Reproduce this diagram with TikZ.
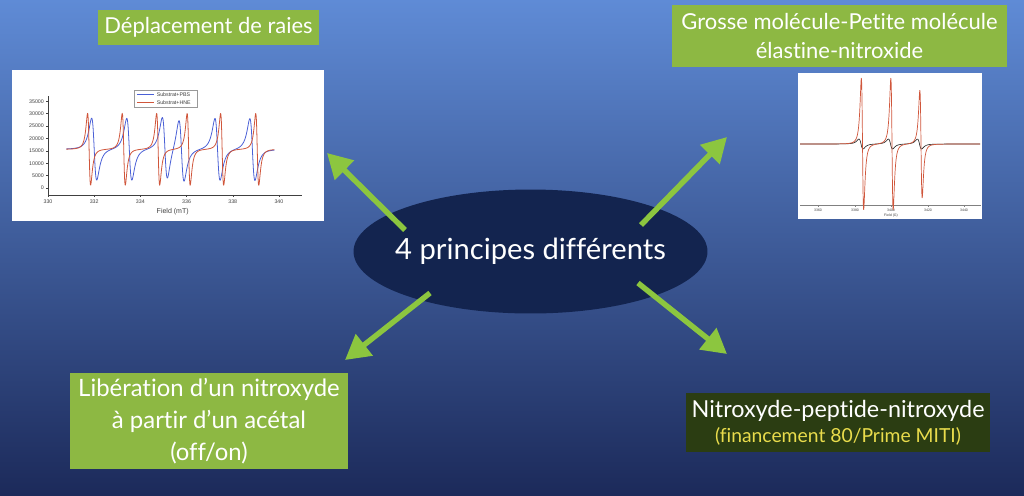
\documentclass[tikz,border=0pt]{standalone}
\usepackage{fontspec}
\setmainfont{Lato}[Ligatures=NoCommon]
\newfontfamily\graphefont{Liberation Sans}
\usetikzlibrary{arrows.meta,shapes.geometric}

\definecolor{fondhaut}{HTML}{5F8BD6}
\definecolor{fondmilieu}{HTML}{36559C}
\definecolor{fondbas}{HTML}{1C2A5A}
\definecolor{vertboite}{HTML}{8DB843}
\definecolor{vertfleche}{HTML}{8CC63F}
\definecolor{ovale}{HTML}{13244F}
\definecolor{olive}{HTML}{2B3D12}
\definecolor{jaune}{HTML}{E9DC4C}
\definecolor{bleucourbe}{HTML}{4A60D6}
\definecolor{rougecourbe}{HTML}{D0563B}

\tikzset{
	titre/.style={rectangle,fill=vertboite,text=white,align=center,inner sep=0pt,font=\fontsize{12.5}{17}\selectfont},
	fleche/.style={draw=vertfleche,line width=3.1pt,-{Triangle[length=14pt,width=15pt]}},
	cadre/.style={rectangle,fill=white,inner sep=0pt},
	axe/.style={draw=black!75,line width=0.25pt},
	graduation/.style={font=\graphefont\fontsize{3}{3}\selectfont,text=black!75,inner sep=0.6pt},
	courbe/.style={line width=0.45pt,line join=round}
}

\begin{document}
\begin{tikzpicture}[x=0.02cm,y=-0.02cm,
	declare function={raie(\u)=-3.08*(\u/(1+\u*\u))/(1+\u*\u);}]
	% fond
	\useasboundingbox (0,0) rectangle (1024,495);
	\shade[top color=fondhaut,middle color=fondmilieu,bottom color=fondbas] (0,0) rectangle (1024,495);

	% boites de texte
	\node (deplacement)[titre,minimum width=4.42cm,minimum height=0.7cm] at (208.5,27.5) {Déplacement de raies};
	\node (grosse)[titre,minimum width=6.7cm,minimum height=1.24cm] at (839.5,36) {Grosse molécule-Petite molécule\\élastine-nitroxide};
	\node (liberation)[titre,font=\fontsize{13.6}{18}\selectfont,minimum width=5.56cm,minimum height=1.92cm] at (209,421) {Libération d’un nitroxyde\\à partir d’un acétal\\(off/on)};
	\node (peptide)[titre,fill=olive,font=\fontsize{13.3}{17}\selectfont,minimum width=6.08cm,minimum height=1.18cm] at (838,422.5) {Nitroxyde-peptide-nitroxyde\\[-3pt]{\color{jaune}\fontsize{11}{12}\selectfont(financement 80/Prime MITI)}};

	% spectre de gauche
	\node (spectreA)[cadre,minimum width=6.24cm,minimum height=3.02cm] at (168,145.5) {};
	\begin{scope}[shift={(48,188)},x=0.462cm,y=0.0496cm]
		\draw[axe] (0,37) -- (0,-2.8) -- (11,-2.8);
		\foreach \v/\t in {0/0,5/5000,10/10000,15/15000,20/20000,25/25000,30/30000,35/35000}{
			\draw[axe] (0,\v) -- (-0.1,\v);
			\node[graduation,anchor=east] at (-0.12,\v) {\t};
		}
		\foreach \v/\t in {0/330,2/332,4/334,6/336,8/338,10/340}{
			\draw[axe] (\v,-2.8) -- (\v,-3.8);
			\node[graduation,anchor=north] at (\v,-4.2) {\t};
		}
		\node[graduation,font=\graphefont\fontsize{4}{4}\selectfont] at (5.4,-9.6) {Field (mT)};
		\draw[courbe,bleucourbe] plot[domain=0.8:9.8,samples=601] (\x,{15.6+12.5*(raie((\x-2.0)/0.19)+raie((\x-3.52)/0.19)+raie((\x-5.06)/0.19)+raie((\x-5.78)/0.19)+raie((\x-7.34)/0.19)+raie((\x-8.85)/0.19))});
		\draw[courbe,rougecourbe] plot[domain=0.8:9.8,samples=601] (\x,{15.6+14.5*(raie((\x-1.78)/0.113)+raie((\x-3.28)/0.113)+raie((\x-4.77)/0.113)+raie((\x-6.09)/0.113)+raie((\x-7.54)/0.113)+raie((\x-9.06)/0.113))});
		% legende
		\draw[draw=black!40,line width=0.2pt,fill=white] (3.72,39.5) rectangle (6.45,32.7);
		\draw[courbe,bleucourbe] (3.85,37.8) -- (4.6,37.8);
		\draw[courbe,rougecourbe] (3.85,34.4) -- (4.6,34.4);
		\node[graduation,anchor=west] at (4.65,37.8) {Substrat+PBS};
		\node[graduation,anchor=west] at (4.65,34.4) {Substrat+HNE};
	\end{scope}

	% spectre de droite
	\node (spectreB)[cadre,minimum width=3.68cm,minimum height=2.92cm] at (890,146) {};
	\draw[axe,draw=black!50] (800,205) -- (981,205);
	\foreach \px/\t in {818/3360,855/3380,891/3400,928/3420,964/3440}{
		\draw[axe,draw=black!50] (\px,205) -- (\px,207);
		\node[graduation,font=\graphefont\fontsize{2}{2}\selectfont] at (\px,210.5) {\t};
	}
	\node[graduation,font=\graphefont\fontsize{2}{2}\selectfont] at (891,215.5) {Field (G)};
	\draw[courbe,black!85,line width=0.35pt] plot[domain=800:980,samples=361] (\x,{144-5*(raie((\x-861)/3.5)+raie((\x-890.5)/3.5)+raie((\x-919.5)/3.5))});
	\draw[courbe,rougecourbe,line width=0.4pt] plot[domain=800:980,samples=721] (\x,{144-66*(raie((\x-862.5)/2)+raie((\x-892)/2))-54*raie((\x-921)/2)});

	% ovale central
	\node (principes)[ellipse,fill=ovale,inner sep=0pt,minimum width=7.08cm,minimum height=2.48cm] at (530.5,251.5) {};
	\node (texteprincipes)[text=white,font=\fontsize{16.6}{18}\selectfont] at (principes.center) {4 principes différents};

	% fleches
	\coordinate (departA) at (405,230);
	\coordinate (pointeA) at (327,153);
	\coordinate (departB) at (641,225);
	\coordinate (pointeB) at (727,137);
	\coordinate (departC) at (430,293);
	\coordinate (pointeC) at (345,360);
	\coordinate (departD) at (638,283);
	\coordinate (pointeD) at (727,354);
	\foreach \n in {A,B,C,D}
		\draw[fleche] (depart\n) -- (pointe\n);
\end{tikzpicture}
\end{document}
